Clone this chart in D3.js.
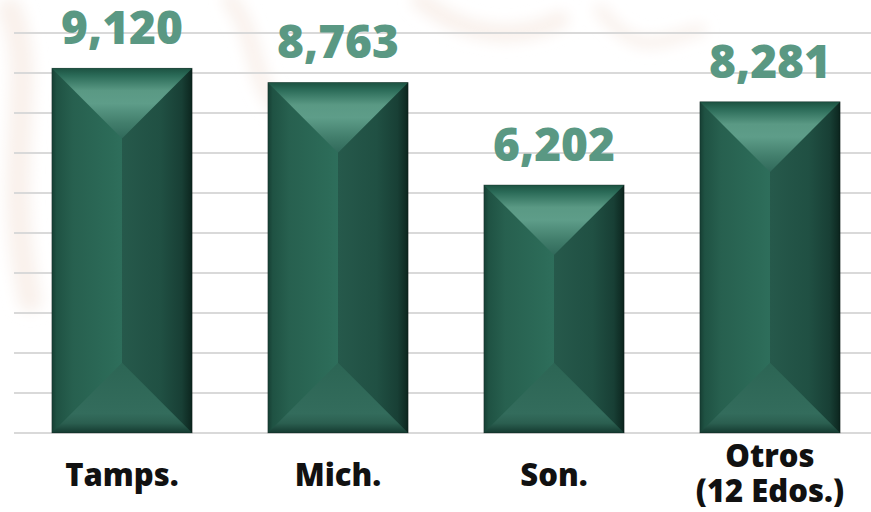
<!DOCTYPE html>
<html>
<head>
<meta charset="utf-8">
<script src="https://cdn.jsdelivr.net/npm/d3@7"></script>
<style>
  html, body { margin: 0; padding: 0; background: #ffffff; }
  svg { display: block; }
</style>
</head>
<body>
<svg id="chart" width="871" height="512"></svg>
<script>
// Bar chart data
const categories = ["Tamps.", "Mich.", "Son.", "Otros\n(12 Edos.)"];
const values = [9120, 8763, 6202, 8281];
const yTicks = [0, 1000, 2000, 3000, 4000, 5000, 6000, 7000, 8000, 9000, 10000];

const W = 871, H = 512;
const svg = d3.select("#chart");

const x = d3.scaleBand()
  .domain(categories)
  .range([14, 878])
  .paddingInner(0.35)
  .paddingOuter(0.175);

const y = d3.scaleLinear()
  .domain([0, 10000])
  .range([433, 33]);

const defs = svg.append("defs");

function linGrad(id, horizontal, stops) {
  const g = defs.append("linearGradient")
    .attr("id", id)
    .attr("x1", 0).attr("y1", 0)
    .attr("x2", horizontal ? 1 : 0).attr("y2", horizontal ? 0 : 1);
  stops.forEach(([o, c]) => g.append("stop").attr("offset", o).attr("stop-color", c));
}

linGrad("leftFace", true, [
  [0, "#163e33"], [0.07, "#1f5243"], [0.3, "#27604f"], [0.85, "#2c6b58"], [1, "#2e6e5b"]
]);
linGrad("rightFace", true, [
  [0, "#26594b"], [0.55, "#205043"], [0.85, "#183f35"], [0.96, "#0f2c24"], [1, "#0a221c"]
]);
linGrad("topFace", false, [
  [0, "#1c5241"], [0.1, "#2a6a57"], [0.32, "#5a9984"], [0.5, "#5e9d89"], [0.78, "#427e6c"], [1, "#30695a"]
]);
linGrad("bottomFace", false, [
  [0, "#2c6554"], [0.72, "#336c5c"], [0.86, "#2b5f50"], [1, "#143a30"]
]);

const blur = defs.append("filter").attr("id", "soft")
  .attr("x", "-50%").attr("y", "-50%").attr("width", "200%").attr("height", "200%");
blur.append("feGaussianBlur").attr("stdDeviation", 7);

// faint background ornament
const orn = svg.append("g").attr("filter", "url(#soft)").attr("fill", "none")
  .attr("stroke", "#f9f1ec").attr("stroke-linecap", "round");
orn.append("path").attr("stroke-width", 24)
  .attr("d", "M10,10 C40,80 0,160 30,300");
orn.append("path").attr("stroke-width", 16)
  .attr("d", "M230,0 C260,40 250,80 280,110");
orn.append("path").attr("stroke-width", 18)
  .attr("d", "M420,0 C470,40 520,40 560,20");
orn.append("path").attr("stroke-width", 12)
  .attr("d", "M600,10 C640,60 660,40 700,30");

// gridlines
svg.append("g")
  .selectAll("line")
  .data(yTicks)
  .join("line")
  .attr("x1", 14).attr("x2", W)
  .attr("y1", d => y(d)).attr("y2", d => y(d))
  .attr("stroke", "#d9d9d9")
  .attr("stroke-width", 2);

// bevelled bars
const bars = svg.append("g")
  .selectAll("g")
  .data(categories.map((c, i) => ({ c, v: values[i] })))
  .join("g");

bars.each(function(d) {
  const g = d3.select(this);
  const x0 = x(d.c), w = x.bandwidth(), x1 = x0 + w, cx = x0 + w / 2;
  const top = y(d.v), bot = y(0), b = w / 2;
  g.append("rect").attr("x", x0).attr("y", top).attr("width", w / 2).attr("height", bot - top)
    .attr("fill", "url(#leftFace)");
  g.append("rect").attr("x", cx).attr("y", top).attr("width", w / 2).attr("height", bot - top)
    .attr("fill", "url(#rightFace)");
  g.append("path")
    .attr("d", `M${x0},${top}L${x1},${top}L${cx},${top + b}Z`)
    .attr("fill", "url(#topFace)");
  g.append("path")
    .attr("d", `M${x0},${bot}L${cx},${bot - b}L${x1},${bot}Z`)
    .attr("fill", "url(#bottomFace)");
  g.append("rect").attr("x", x0).attr("y", top).attr("width", w).attr("height", bot - top)
    .attr("fill", "none").attr("stroke", "rgba(0,0,0,0.25)").attr("stroke-width", 0.8);
});

// value labels
bars.append("text")
  .attr("x", d => x(d.c) + x.bandwidth() / 2)
  .attr("y", d => y(d.v) - 24)
  .attr("text-anchor", "middle")
  .attr("font-family", "'Open Sans', sans-serif")
  .attr("font-weight", 800)
  .attr("font-size", 46)
  .attr("fill", "#5a9883")
  .text(d => d3.format(",")(d.v));

// category labels
const catG = svg.append("g")
  .selectAll("text")
  .data(categories)
  .join("text")
  .attr("text-anchor", "middle")
  .attr("font-family", "'Open Sans', sans-serif")
  .attr("font-weight", 800)
  .attr("font-size", 31)
  .attr("fill", "#111111")
  .attr("x", d => x(d) + x.bandwidth() / 2)
  .attr("y", d => d.includes("\n") ? 467 : 486);

catG.each(function(d) {
  const lines = d.split("\n");
  const t = d3.select(this);
  lines.forEach((ln, i) => {
    t.append("tspan")
      .attr("x", x(d) + x.bandwidth() / 2)
      .attr("dy", i === 0 ? 0 : 35)
      .text(ln);
  });
});
</script>
</body>
</html>
